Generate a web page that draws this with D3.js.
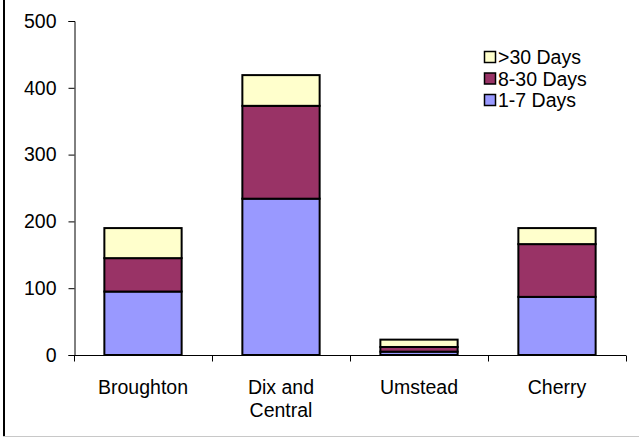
<!DOCTYPE html>
<html><head><meta charset="utf-8">
<script src="https://cdn.jsdelivr.net/npm/d3@7"></script>
<style>body{margin:0;background:#fff}svg{display:block}text{font-family:"Liberation Sans",Arial,sans-serif;}</style>
</head><body>
<script>
const categories = [["Broughton"], ["Dix and", "Central"], ["Umstead"], ["Cherry"]];
const seriesNames = ["1-7 Days", "8-30 Days", ">30 Days"];
const days1to7 = [95, 234, 5, 87];
const days8to30 = [50, 139, 7, 79];
const daysOver30 = [45, 46, 11, 24];
const yTicks = [0, 100, 200, 300, 400, 500];
const colors = ["#9999FF", "#993366", "#FFFFCC"];

(function () {
const W = 639, H = 438, FS = 19.5;
const svg = d3.select("body").append("svg").attr("width", W).attr("height", H);

// frame
svg.append("line").attr("x1", 4).attr("x2", 4).attr("y1", 0).attr("y2", 437).attr("stroke", "#000").attr("stroke-width", 2);
svg.append("line").attr("x1", 3).attr("x2", W).attr("y1", 436.5).attr("y2", 436.5).attr("stroke", "#c8c8c8").attr("stroke-width", 1);

const mLeft = 74, mRight = 626, mTop = 21, mBottom = 355;
const x = d3.scaleBand().domain(d3.range(categories.length)).range([mLeft, mRight]).paddingInner(0.44).paddingOuter(0.22);
const y = d3.scaleLinear().domain([0, 500]).range([mBottom, mTop]);

const rows = categories.map((c, i) => ({i, "1-7 Days": days1to7[i], "8-30 Days": days8to30[i], ">30 Days": daysOver30[i]}));
const stacked = d3.stack().keys(seriesNames)(rows);

// bars
const g = svg.append("g");
stacked.forEach((s, k) => {
  g.selectAll(null).data(s).enter().append("rect")
    .attr("x", d => x(d.data.i))
    .attr("width", x.bandwidth())
    .attr("y", d => y(d[1]))
    .attr("height", d => y(d[0]) - y(d[1]))
    .attr("fill", colors[k])
    .attr("stroke", "#000")
    .attr("stroke-width", 2);
});

// y axis
const yAxis = svg.append("g").attr("transform", `translate(${mLeft + 0.5},0)`)
  .call(d3.axisLeft(y).tickValues(yTicks).tickSize(6).tickPadding(12).tickFormat(d3.format("d")));
yAxis.select(".domain").attr("stroke", "#000");
yAxis.selectAll("line").attr("stroke", "#000");
yAxis.selectAll("text").attr("font-size", FS).attr("fill", "#000").attr("font-family", "Liberation Sans, Arial, sans-serif");

// x axis
const xAxisG = svg.append("g").attr("transform", `translate(0,${mBottom + 0.5})`);
xAxisG.append("line").attr("x1", mLeft).attr("x2", mRight).attr("stroke", "#000");
const bounds = d3.range(categories.length + 1).map(i => mLeft + i * (mRight - mLeft) / categories.length);
xAxisG.selectAll(".tk").data(bounds).enter().append("line")
  .attr("x1", d => Math.round(d) + 0.5).attr("x2", d => Math.round(d) + 0.5).attr("y1", 0).attr("y2", 6).attr("stroke", "#000");
categories.forEach((lines, i) => {
  const t = svg.append("text").attr("text-anchor", "middle").attr("font-size", FS).attr("fill", "#000")
    .attr("x", x(i) + x.bandwidth() / 2).attr("y", 394);
  lines.forEach((ln, j) => t.append("tspan").attr("x", x(i) + x.bandwidth() / 2).attr("dy", j === 0 ? 0 : 23).text(ln));
});

// legend
const legendItems = [2, 1, 0];
const lg = svg.append("g");
legendItems.forEach((k, r) => {
  const cy = 57 + r * 21.5;
  lg.append("rect").attr("x", 484.5).attr("y", cy - 5.5).attr("width", 11).attr("height", 11)
    .attr("fill", colors[k]).attr("stroke", "#000").attr("stroke-width", 1.5);
  lg.append("text").attr("x", 498).attr("y", cy + 7).attr("font-size", FS).attr("fill", "#000").text(seriesNames[k]);
});
})();
</script>
</body></html>
